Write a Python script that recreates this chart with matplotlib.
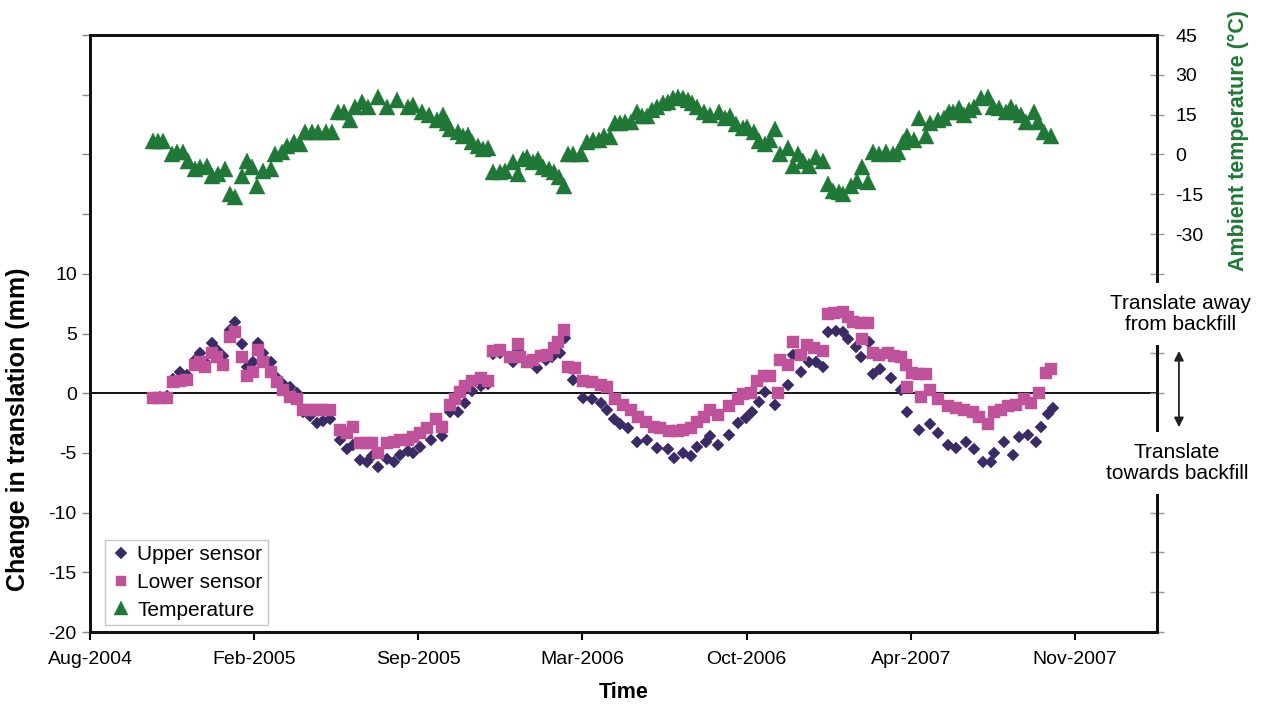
import matplotlib
matplotlib.use('Agg')
import matplotlib.pyplot as plt
import matplotlib.dates as mdates
import pandas as pd

plt.rcParams['font.family'] = ['Liberation Sans', 'DejaVu Sans']

# Days counted from 1 Aug 2004
INICIO = pd.Timestamp('2004-08-01')

temp_day = [77, 83, 89, 100, 106, 113, 120, 128, 134, 143,
            149, 156, 165, 171, 177, 185, 191, 198, 204, 211,
            220, 226, 234, 240, 248, 256, 262, 271, 278, 287,
            295, 302, 309, 317, 323, 332, 339, 351, 362, 374,
            387, 394, 405, 413, 423, 430, 435, 439, 448, 455,
            460, 466, 473, 479, 485, 491, 500, 506, 515, 521,
            527, 533, 540, 546, 552, 559, 565, 571, 577, 583,
            589, 598, 606, 613, 620, 626, 634, 640, 646, 652,
            659, 667, 673, 679, 685, 691, 698, 704, 710, 716,
            722, 728, 734, 740, 748, 756, 766, 774, 780, 787,
            795, 801, 809, 815, 823, 829, 835, 841, 850, 856,
            863, 869, 876, 884, 893, 899, 905, 912, 918, 927,
            935, 941, 948, 954, 961, 970, 978, 985, 991, 996,
            1004, 1010, 1018, 1024, 1033, 1040, 1046, 1052, 1059, 1065,
            1071, 1077, 1085, 1094, 1100, 1107, 1116, 1122, 1128, 1134,
            1140, 1150, 1155, 1162, 1171]
temp_c = [4.9, 4.9, 4.9, 0.0, 0.8, 1.1, -2.6, -5.6, -4.9, -4.5,
          -8.3, -7.5, -5.6, -15.0, -16.1, -8.3, -2.6, -4.9, -12.0, -6.4,
          -5.6, 0.0, 1.1, 3.0, 4.5, 3.8, 8.3, 8.3, 8.3, 8.3,
          8.3, 16.1, 15.8, 13.1, 18.0, 19.9, 18.0, 21.8, 18.0, 20.6,
          18.0, 18.8, 16.1, 15.0, 13.1, 15.0, 12.0, 9.4, 8.3, 6.8,
          7.5, 4.5, 3.0, 1.9, 2.6, -6.8, -6.8, -6.4, -3.0, -7.5,
          -1.9, -1.1, -3.0, -1.9, -4.9, -5.6, -6.8, -8.6, -12.0, 0.0,
          0.0, 0.0, 4.5, 5.6, 5.6, 6.8, 6.4, 12.0, 12.0, 12.4,
          12.4, 16.1, 14.3, 14.3, 16.9, 18.0, 19.5, 19.9, 21.4, 21.8,
          21.4, 20.6, 19.5, 18.0, 15.8, 15.0, 16.1, 13.9, 14.3, 11.3,
          10.1, 10.5, 8.3, 4.9, 3.8, 5.6, 9.4, 0.0, 2.6, -4.5,
          0.0, -2.6, -4.5, -1.1, -2.6, -11.3, -13.9, -14.3, -15.0, -12.0,
          -10.1, -4.9, -10.5, 0.8, 0.0, 0.8, 0.0, 0.8, 4.5, 6.8,
          5.6, 13.9, 6.8, 12.0, 13.1, 13.9, 15.8, 16.1, 17.6, 15.0,
          16.9, 18.0, 21.4, 21.8, 18.0, 17.6, 16.1, 18.0, 16.1, 15.0,
          12.4, 15.8, 12.4, 8.3, 6.8]

lower_day = [77, 85, 94, 101, 110, 118, 128, 134, 140, 149,
             155, 162, 171, 177, 185, 191, 199, 205, 211, 220,
             228, 235, 244, 252, 260, 268, 277, 284, 293, 305,
             313, 320, 329, 338, 344, 351, 362, 370, 378, 387,
             394, 402, 410, 421, 429, 439, 445, 451, 457, 466,
             476, 485, 491, 500, 512, 521, 524, 533, 540, 549,
             557, 565, 570, 577, 583, 591, 601, 612, 622, 630,
             640, 650, 659, 668, 677, 687, 695, 705, 716, 723,
             732, 740, 748, 756, 765, 778, 789, 796, 805, 813,
             821, 829, 838, 841, 850, 856, 866, 874, 882, 893,
             899, 906, 917, 923, 930, 939, 941, 948, 954, 961,
             972, 979, 988, 994, 996, 1002, 1010, 1012, 1018, 1024,
             1033, 1045, 1055, 1065, 1076, 1083, 1094, 1101, 1110, 1118,
             1128, 1138, 1146, 1156, 1165, 1171]
lower_mm = [-0.4, -0.4, -0.4, 0.9, 1.0, 1.1, 2.4, 2.6, 2.2, 3.4,
            3.0, 2.4, 4.7, 5.1, 3.0, 1.4, 1.8, 3.6, 2.6, 1.8,
            0.9, 0.3, -0.3, -0.5, -1.4, -1.4, -1.4, -1.4, -1.4, -3.1,
            -3.3, -2.8, -4.2, -4.2, -4.2, -5.0, -4.2, -4.1, -3.9, -3.9,
            -3.7, -3.3, -2.9, -2.2, -2.8, -1.0, -0.5, 0.1, 0.6, 1.0,
            1.3, 1.0, 3.5, 3.6, 3.0, 4.1, 3.0, 2.6, 2.8, 3.1,
            3.2, 3.8, 4.3, 5.3, 2.2, 2.1, 1.0, 0.9, 0.7, 0.5,
            -0.5, -1.0, -1.4, -2.0, -2.4, -2.8, -2.9, -3.2, -3.2, -3.1,
            -2.9, -2.4, -2.0, -1.4, -1.8, -1.1, -0.5, -0.1, 0.0, 1.0,
            1.4, 1.4, 0.0, 2.8, 2.4, 4.3, 3.2, 4.0, 3.8, 3.5,
            6.6, 6.7, 6.8, 6.4, 6.0, 5.9, 4.5, 5.9, 3.4, 3.2,
            3.4, 3.1, 3.0, 2.4, 0.5, 1.7, 1.6, -0.3, 1.6, 0.3,
            -0.5, -1.1, -1.2, -1.4, -1.6, -2.0, -2.6, -1.6, -1.4, -1.1,
            -1.0, -0.5, -0.8, 0.0, 1.7, 2.0]

upper_day = [77, 85, 94, 101, 110, 118, 128, 134, 140, 149,
             155, 162, 171, 177, 185, 191, 199, 205, 211, 220,
             228, 235, 244, 252, 260, 268, 277, 284, 293, 305,
             313, 320, 329, 338, 344, 351, 362, 370, 378, 387,
             394, 402, 415, 429, 439, 448, 457, 466, 476, 485,
             491, 500, 515, 521, 533, 545, 555, 563, 573, 579,
             589, 601, 612, 622, 630, 638, 646, 655, 667, 679,
             691, 704, 711, 723, 732, 740, 750, 756, 765, 778,
             789, 799, 807, 815, 823, 835, 850, 857, 866, 876,
             884, 893, 899, 909, 917, 924, 933, 939, 949, 954,
             963, 976, 988, 996, 1010, 1024, 1033, 1045, 1055, 1067,
             1077, 1088, 1098, 1101, 1113, 1124, 1132, 1143, 1152, 1159,
             1167, 1173]
upper_mm = [-0.4, -0.3, -0.2, 1.2, 1.8, 1.5, 2.8, 3.4, 2.6, 4.2,
            3.6, 3.1, 5.3, 6.0, 4.1, 2.2, 2.6, 4.2, 3.4, 2.6,
            1.3, 0.8, 0.5, 0.0, -1.6, -1.9, -2.5, -2.3, -2.2, -3.9,
            -4.7, -4.3, -5.6, -5.8, -5.3, -6.2, -5.5, -5.8, -5.2, -4.8,
            -5.0, -4.5, -3.9, -3.6, -1.6, -1.6, -0.8, 0.2, 0.6, 0.8,
            3.3, 3.4, 2.6, 3.6, 2.6, 2.1, 2.8, 3.0, 3.4, 4.6,
            1.1, -0.4, -0.5, -0.8, -1.4, -2.2, -2.6, -2.9, -4.1, -3.9,
            -4.6, -4.7, -5.4, -5.0, -5.3, -4.5, -4.1, -3.6, -4.3, -3.5,
            -2.5, -2.1, -1.6, -0.7, 0.1, -1.0, 0.7, 3.2, 1.8, 2.6,
            2.6, 2.2, 5.1, 5.2, 5.1, 4.5, 3.9, 3.0, 4.3, 1.6,
            2.0, 1.3, 0.3, -1.6, -3.1, -2.6, -3.3, -4.3, -4.6, -4.1,
            -4.7, -5.8, -5.8, -5.0, -4.1, -5.2, -3.7, -3.5, -4.1, -2.8,
            -1.7, -1.2]

# eixo x: marcas a cada 200 dias
tick_day = [0, 200, 400, 600, 800, 1000, 1200]
x_fim = 1300


def datas(dias):
    return INICIO + pd.to_timedelta(dias, unit='D')


COR_UP = '#3a2a66'
COR_LOW = '#c0529c'
COR_TEMP = '#1f7836'

fig = plt.figure(figsize=(12.62, 7.09), dpi=100)
ax = fig.add_axes([0.0713, 0.1086, 0.8455, 0.842])
ax2 = ax.twinx()

ax.plot(datas(upper_day), upper_mm, 'D', ms=6.6, color=COR_UP, mec=COR_UP, mew=0.3,
        label='Upper sensor', zorder=3)
ax.plot(datas(lower_day), lower_mm, 's', ms=8.6, color=COR_LOW, mec=COR_LOW, mew=0.3,
        label='Lower sensor', zorder=4)
ax.axhline(0, color='black', lw=1.3, zorder=2)
ax2.plot(datas(temp_day), temp_c, '^', ms=11, color=COR_TEMP, mec=COR_TEMP, mew=0.3,
         label='Temperature')

ax.set_xlim(datas([0, x_fim]))
ax.set_xticks(datas(tick_day))
ax.xaxis.set_major_formatter(mdates.DateFormatter('%b-%Y'))

ax.set_ylim(-20, 30)
ax.set_yticks(range(-20, 31, 5))
ax.set_yticklabels([str(v) if v <= 10 else '' for v in range(-20, 31, 5)])

ax2.set_ylim(-180, 45)
ax2.set_yticks(range(-180, 46, 15))
ax2.set_yticklabels([str(v) if v >= -30 else '' for v in range(-180, 46, 15)])

for a in (ax, ax2):
    for s in a.spines.values():
        s.set_linewidth(2.0)
        s.set_color('#111111')

ax.tick_params(axis='x', direction='out', length=6, width=1.5, labelsize=14, pad=8)
ax.tick_params(axis='y', direction='out', length=6, width=1, color='#888888', labelsize=14)
ax2.tick_params(axis='y', direction='inout', length=10, width=1, color='#999999', labelsize=14, pad=8)

ax.set_xlabel('Time', fontsize=15.5, fontweight='bold', labelpad=10)
ax.set_ylabel('Change in translation (mm)', fontsize=18, fontweight='bold')
ax.yaxis.set_label_coords(-0.056, 0.340)
ax2.set_ylabel('Ambient temperature (°C)', fontsize=15.5, fontweight='bold', color=COR_TEMP,
               rotation=90)
ax2.yaxis.set_label_coords(1.066, 0.824)

h1, l1 = ax.get_legend_handles_labels()
h2, l2 = ax2.get_legend_handles_labels()
leg = ax2.legend(h1 + h2, l1 + l2, loc='lower left', bbox_to_anchor=(0.014, 0.012),
                 fontsize=15, frameon=True, fancybox=False, edgecolor='#bbbbbb',
                 handlelength=1.0, handletextpad=0.3, labelspacing=0.42, borderpad=0.25,
                 borderaxespad=0, markerscale=0.9)
leg.get_frame().set_linewidth(1.0)

# setas e textos do lado direito
fig.text(0.9358, 0.557, 'Translate away\nfrom backfill', ha='center', va='center', fontsize=15,
         linespacing=1.1, zorder=10,
         bbox=dict(facecolor='white', edgecolor='none', pad=8))
fig.text(0.9326, 0.347, 'Translate\ntowards backfill', ha='center', va='center', fontsize=15,
         linespacing=1.1, zorder=10,
         bbox=dict(facecolor='white', edgecolor='none', pad=8))
fig.patches.append(matplotlib.patches.FancyArrowPatch(
    (0.9342, 0.3935), (0.9342, 0.509), transform=fig.transFigure,
    arrowstyle='<|-|>', mutation_scale=14, color='#222222', lw=1.3))

fig.savefig('out.png', dpi=100)
